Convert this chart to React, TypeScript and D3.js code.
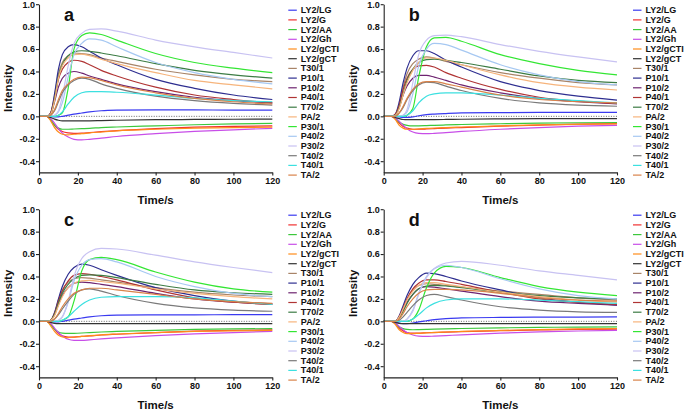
import React, { useEffect, useRef } from "react";
import * as d3 from "d3";

// Sample times (s)
const TIMES = [0, 4, 6, 8, 10, 12, 15, 18, 22, 26, 32, 40, 60, 80, 100, 120];

const SERIES_NAMES = [
  "LY2/LG", "LY2/G", "LY2/AA", "LY2/Gh", "LY2/gCTI", "LY2/gCT", "T30/1", "P10/1", "P10/2",
  "P40/1", "T70/2", "PA/2", "P30/1", "P40/2", "P30/2", "T40/2", "T40/1", "TA/2",
];

const SERIES_COLORS = [
  "#3a3af0", "#f03030", "#3cc83c", "#c84ee8", "#ff8c1a", "#333333", "#a88468", "#2e2e90", "#6e2470",
  "#b03434", "#3c7c44", "#f6b47c", "#33e633", "#a6c8f2", "#c8c2f2", "#7a7a7a", "#3ce0e0", "#d9834a",
];

const Y_TICKS = [-0.4, -0.2, 0.0, 0.2, 0.4, 0.6, 0.8, 1.0];
const X_TICKS = [0, 20, 40, 60, 80, 100, 120];
const PANEL_LETTERS = ["a", "b", "c", "d"];

// Panel a values (rows in SERIES_NAMES order, columns at TIMES)
const PANEL_A = [
  [0, 0, 0, -0.005, -0.005, 0, 0.01, 0.02, 0.03, 0.04, 0.05, 0.055, 0.058, 0.057, 0.056, 0.056],
  [0, 0, -0.03, -0.08, -0.115, -0.135, -0.148, -0.152, -0.15, -0.145, -0.137, -0.128, -0.11, -0.097, -0.09, -0.085],
  [0, 0, -0.03, -0.08, -0.105, -0.115, -0.115, -0.113, -0.11, -0.107, -0.1, -0.095, -0.085, -0.075, -0.068, -0.063],
  [0, 0, -0.02, -0.06, -0.11, -0.15, -0.185, -0.205, -0.21, -0.205, -0.195, -0.18, -0.155, -0.135, -0.12, -0.107],
  [0, 0, -0.04, -0.1, -0.14, -0.16, -0.165, -0.16, -0.155, -0.148, -0.14, -0.13, -0.115, -0.105, -0.1, -0.097],
  [0, 0, -0.01, -0.025, -0.035, -0.04, -0.04, -0.04, -0.04, -0.04, -0.038, -0.035, -0.03, -0.028, -0.026, -0.025],
  [0, 0, 0.03, 0.18, 0.38, 0.48, 0.54, 0.565, 0.56, 0.55, 0.52, 0.49, 0.42, 0.37, 0.33, 0.31],
  [0, 0, 0.03, 0.2, 0.42, 0.55, 0.62, 0.64, 0.62, 0.58, 0.52, 0.46, 0.33, 0.25, 0.19, 0.15],
  [0, 0, 0.02, 0.13, 0.26, 0.34, 0.385, 0.4, 0.385, 0.36, 0.33, 0.29, 0.22, 0.17, 0.14, 0.12],
  [0, 0, 0.03, 0.16, 0.33, 0.42, 0.48, 0.5, 0.49, 0.46, 0.41, 0.36, 0.26, 0.19, 0.15, 0.12],
  [0, 0, 0.02, 0.15, 0.35, 0.46, 0.54, 0.575, 0.585, 0.58, 0.565, 0.54, 0.47, 0.41, 0.37, 0.34],
  [0, 0, 0.02, 0.14, 0.34, 0.45, 0.52, 0.55, 0.555, 0.54, 0.51, 0.47, 0.39, 0.32, 0.28, 0.245],
  [0, 0, 0, 0, 0.01, 0.03, 0.25, 0.6, 0.72, 0.745, 0.73, 0.68, 0.56, 0.48, 0.43, 0.39],
  [0, 0, 0, 0.01, 0.04, 0.12, 0.35, 0.55, 0.65, 0.69, 0.68, 0.62, 0.48, 0.39, 0.33, 0.29],
  [0, 0, 0, 0.01, 0.05, 0.18, 0.45, 0.65, 0.74, 0.775, 0.78, 0.76, 0.68, 0.62, 0.57, 0.52],
  [0, 0, 0.01, 0.05, 0.13, 0.21, 0.28, 0.32, 0.34, 0.33, 0.29, 0.25, 0.18, 0.14, 0.115, 0.1],
  [0, 0, 0, 0, 0.01, 0.04, 0.11, 0.17, 0.21, 0.22, 0.22, 0.215, 0.19, 0.16, 0.14, 0.13],
  [0, 0, 0.01, 0.06, 0.15, 0.23, 0.29, 0.33, 0.35, 0.345, 0.32, 0.28, 0.21, 0.16, 0.13, 0.11],
];

const PANEL_B = [
  [0, 0, 0, -0.005, -0.01, -0.01, -0.005, 0.005, 0.015, 0.02, 0.025, 0.03, 0.033, 0.035, 0.035, 0.035],
  [0, 0, -0.02, -0.06, -0.09, -0.105, -0.115, -0.115, -0.113, -0.11, -0.105, -0.1, -0.088, -0.078, -0.07, -0.065],
  [0, 0, -0.02, -0.05, -0.07, -0.08, -0.085, -0.085, -0.083, -0.08, -0.077, -0.073, -0.066, -0.06, -0.057, -0.055],
  [0, 0, -0.015, -0.045, -0.08, -0.11, -0.14, -0.152, -0.155, -0.152, -0.145, -0.135, -0.115, -0.1, -0.088, -0.08],
  [0, 0, -0.03, -0.08, -0.105, -0.115, -0.115, -0.112, -0.108, -0.104, -0.1, -0.095, -0.085, -0.077, -0.072, -0.068],
  [0, 0, -0.01, -0.02, -0.028, -0.03, -0.03, -0.03, -0.03, -0.029, -0.028, -0.026, -0.023, -0.021, -0.02, -0.02],
  [0, 0, 0.02, 0.1, 0.26, 0.38, 0.47, 0.51, 0.53, 0.52, 0.49, 0.46, 0.39, 0.34, 0.3, 0.28],
  [0, 0, 0.02, 0.13, 0.3, 0.43, 0.54, 0.585, 0.585, 0.56, 0.5, 0.44, 0.31, 0.23, 0.18, 0.145],
  [0, 0, 0.01, 0.08, 0.19, 0.27, 0.34, 0.365, 0.365, 0.35, 0.32, 0.28, 0.21, 0.16, 0.13, 0.11],
  [0, 0, 0.02, 0.1, 0.24, 0.34, 0.42, 0.45, 0.455, 0.44, 0.39, 0.34, 0.24, 0.17, 0.135, 0.115],
  [0, 0, 0.01, 0.08, 0.2, 0.32, 0.42, 0.48, 0.505, 0.51, 0.5, 0.48, 0.42, 0.36, 0.32, 0.3],
  [0, 0, 0.01, 0.07, 0.19, 0.3, 0.41, 0.48, 0.52, 0.52, 0.5, 0.46, 0.37, 0.3, 0.26, 0.235],
  [0, 0, 0, 0, 0, 0.01, 0.07, 0.35, 0.62, 0.7, 0.705, 0.67, 0.55, 0.47, 0.41, 0.37],
  [0, 0, 0, 0, 0.01, 0.04, 0.2, 0.45, 0.6, 0.65, 0.64, 0.59, 0.46, 0.37, 0.31, 0.28],
  [0, 0, 0, 0, 0.01, 0.06, 0.3, 0.55, 0.68, 0.72, 0.725, 0.71, 0.64, 0.58, 0.53, 0.485],
  [0, 0, 0, 0.03, 0.08, 0.15, 0.23, 0.28, 0.305, 0.3, 0.27, 0.23, 0.16, 0.12, 0.1, 0.09],
  [0, 0, 0, 0, 0, 0.01, 0.05, 0.12, 0.18, 0.2, 0.21, 0.21, 0.19, 0.16, 0.14, 0.12],
  [0, 0, 0, 0.03, 0.09, 0.16, 0.24, 0.29, 0.31, 0.31, 0.29, 0.26, 0.19, 0.15, 0.13, 0.12],
];

const PANEL_C = [
  [0, 0, 0, -0.005, -0.005, 0, 0.01, 0.02, 0.03, 0.04, 0.05, 0.055, 0.057, 0.058, 0.059, 0.06],
  [0, 0, -0.02, -0.07, -0.11, -0.13, -0.14, -0.14, -0.135, -0.13, -0.122, -0.115, -0.1, -0.088, -0.08, -0.075],
  [0, 0, -0.03, -0.07, -0.095, -0.105, -0.108, -0.107, -0.104, -0.1, -0.095, -0.09, -0.08, -0.072, -0.067, -0.065],
  [0, 0, -0.02, -0.06, -0.1, -0.13, -0.16, -0.17, -0.17, -0.165, -0.157, -0.148, -0.128, -0.112, -0.1, -0.09],
  [0, 0, -0.04, -0.09, -0.125, -0.14, -0.145, -0.14, -0.135, -0.128, -0.12, -0.113, -0.1, -0.09, -0.085, -0.08],
  [0, 0, -0.01, -0.018, -0.02, -0.02, -0.02, -0.02, -0.02, -0.02, -0.02, -0.02, -0.02, -0.02, -0.02, -0.02],
  [0, 0, 0.01, 0.07, 0.19, 0.28, 0.35, 0.38, 0.39, 0.385, 0.37, 0.35, 0.3, 0.26, 0.235, 0.22],
  [0, 0, 0.01, 0.08, 0.2, 0.31, 0.42, 0.48, 0.51, 0.5, 0.46, 0.41, 0.3, 0.23, 0.18, 0.155],
  [0, 0, 0.01, 0.06, 0.15, 0.23, 0.3, 0.34, 0.35, 0.345, 0.33, 0.31, 0.25, 0.2, 0.17, 0.155],
  [0, 0, 0.01, 0.07, 0.18, 0.27, 0.36, 0.41, 0.425, 0.42, 0.4, 0.37, 0.28, 0.21, 0.17, 0.15],
  [0, 0, 0.01, 0.06, 0.16, 0.25, 0.33, 0.38, 0.41, 0.415, 0.41, 0.39, 0.33, 0.28, 0.255, 0.24],
  [0, 0, 0.01, 0.05, 0.14, 0.22, 0.3, 0.34, 0.36, 0.365, 0.355, 0.34, 0.29, 0.25, 0.22, 0.2],
  [0, 0, 0, 0, 0, 0.01, 0.04, 0.18, 0.45, 0.55, 0.57, 0.55, 0.44, 0.35, 0.29, 0.26],
  [0, 0, 0, 0, 0.01, 0.04, 0.17, 0.36, 0.5, 0.55, 0.56, 0.53, 0.4, 0.31, 0.25, 0.22],
  [0, 0, 0, 0, 0.01, 0.04, 0.18, 0.4, 0.56, 0.62, 0.65, 0.645, 0.59, 0.53, 0.48, 0.435],
  [0, 0, 0, 0.02, 0.06, 0.11, 0.18, 0.24, 0.28, 0.29, 0.27, 0.23, 0.16, 0.12, 0.1, 0.09],
  [0, 0, 0, 0, 0, 0.01, 0.04, 0.09, 0.15, 0.19, 0.215, 0.22, 0.22, 0.21, 0.18, 0.15],
  [0, 0, 0, 0.02, 0.07, 0.13, 0.2, 0.25, 0.28, 0.295, 0.295, 0.28, 0.24, 0.2, 0.175, 0.16],
];

const PANEL_D = [
  [0, 0, -0.005, -0.015, -0.02, -0.02, -0.015, -0.005, 0.005, 0.015, 0.025, 0.03, 0.035, 0.037, 0.038, 0.04],
  [0, 0, -0.02, -0.06, -0.085, -0.1, -0.105, -0.105, -0.102, -0.1, -0.096, -0.092, -0.084, -0.077, -0.072, -0.07],
  [0, 0, -0.02, -0.05, -0.065, -0.072, -0.075, -0.074, -0.072, -0.07, -0.067, -0.064, -0.058, -0.054, -0.051, -0.05],
  [0, 0, -0.015, -0.045, -0.075, -0.1, -0.122, -0.132, -0.135, -0.132, -0.127, -0.12, -0.105, -0.094, -0.086, -0.08],
  [0, 0, -0.03, -0.075, -0.1, -0.11, -0.11, -0.107, -0.103, -0.099, -0.095, -0.09, -0.081, -0.074, -0.068, -0.064],
  [0, 0, -0.01, -0.018, -0.02, -0.02, -0.02, -0.02, -0.02, -0.02, -0.02, -0.02, -0.02, -0.02, -0.02, -0.02],
  [0, 0, 0, 0.04, 0.12, 0.2, 0.28, 0.32, 0.335, 0.33, 0.32, 0.305, 0.27, 0.24, 0.21, 0.19],
  [0, 0, 0, 0.05, 0.14, 0.23, 0.33, 0.39, 0.43, 0.425, 0.4, 0.36, 0.28, 0.21, 0.17, 0.145],
  [0, 0, 0, 0.04, 0.1, 0.17, 0.24, 0.29, 0.31, 0.305, 0.29, 0.27, 0.22, 0.18, 0.16, 0.145],
  [0, 0, 0, 0.04, 0.12, 0.2, 0.29, 0.34, 0.37, 0.37, 0.355, 0.33, 0.26, 0.2, 0.17, 0.15],
  [0, 0, 0, 0.03, 0.09, 0.16, 0.24, 0.29, 0.315, 0.32, 0.315, 0.3, 0.26, 0.23, 0.21, 0.2],
  [0, 0, 0, 0.04, 0.11, 0.19, 0.27, 0.32, 0.345, 0.345, 0.33, 0.31, 0.26, 0.22, 0.19, 0.17],
  [0, 0, 0, 0, 0, 0, 0.02, 0.1, 0.3, 0.43, 0.49, 0.48, 0.39, 0.31, 0.26, 0.23],
  [0, 0, 0, 0, 0, 0.02, 0.1, 0.25, 0.4, 0.47, 0.5, 0.48, 0.38, 0.29, 0.23, 0.2],
  [0, 0, 0, 0, 0, 0.02, 0.09, 0.24, 0.39, 0.47, 0.52, 0.535, 0.5, 0.45, 0.41, 0.37],
  [0, 0, 0, 0.01, 0.04, 0.08, 0.14, 0.19, 0.23, 0.24, 0.22, 0.19, 0.13, 0.1, 0.085, 0.08],
  [0, 0, 0, 0, 0, 0, 0.02, 0.06, 0.12, 0.16, 0.19, 0.2, 0.2, 0.19, 0.175, 0.16],
  [0, 0, 0, 0.02, 0.07, 0.13, 0.2, 0.25, 0.28, 0.285, 0.285, 0.28, 0.25, 0.21, 0.19, 0.18],
];

const PANELS = [PANEL_A, PANEL_B, PANEL_C, PANEL_D];

const FONT = "'Liberation Sans', Arial, sans-serif";

type PanelProps = { idx: number; ox: number; oy: number; data: number[][] };

function Panel({ idx, ox, oy, data }: PanelProps) {
  const xAxisRef = useRef<SVGGElement>(null);
  const yAxisRef = useRef<SVGGElement>(null);
  const plotW = 233.3;
  const x = d3.scaleLinear().domain([0, 120]).range([0, plotW]);
  const y = d3.scaleLinear().domain([-0.5, 1.0]).range([168.2, 0]);

  useEffect(() => {
    const style = (g: d3.Selection<SVGGElement, unknown, null, undefined>) => {
      g.selectAll("path.domain").attr("stroke", "#222").attr("stroke-width", 1.1);
      g.selectAll(".tick line").attr("stroke", "#222").attr("stroke-width", 1.1);
      g.selectAll(".tick text")
        .attr("fill", "#111")
        .attr("font-family", FONT)
        .attr("font-weight", "bold")
        .attr("font-size", 9);
    };
    if (xAxisRef.current) {
      const g = d3.select(xAxisRef.current);
      g.call(
        d3.axisBottom(x).tickValues(X_TICKS).tickSize(3).tickSizeOuter(0).tickPadding(2).tickFormat((d) => String(d))
      );
      style(g);
    }
    if (yAxisRef.current) {
      const g = d3.select(yAxisRef.current);
      g.call(
        d3
          .axisLeft(y)
          .tickValues(Y_TICKS)
          .tickSize(3)
          .tickSizeOuter(0)
          .tickPadding(1)
          .tickFormat((d) => (d as number).toFixed(1))
      );
      style(g);
    }
  }, []);

  const line = d3
    .line<number>()
    .x((_, i) => x(TIMES[i]))
    .y((d) => y(d))
    .curve(d3.curveMonotoneX);

  const legendX = plotW + 16;
  return (
    <g transform={`translate(${ox},${oy})`}>
      <line
        x1={x(5)}
        x2={x(120)}
        y1={y(0)}
        y2={y(0)}
        stroke="#555"
        strokeWidth={0.9}
        strokeDasharray="1,1.5"
      />
      {data.map((vals, i) => (
        <path key={i} d={line(vals) || ""} fill="none" stroke={SERIES_COLORS[i]} strokeWidth={1.2} />
      ))}
      <g ref={yAxisRef} />
      <g ref={xAxisRef} transform={`translate(0,${y(-0.5)})`} />
      <text
        transform={`translate(${-27},${y(0.25)}) rotate(-90)`}
        textAnchor="middle"
        fontFamily={FONT}
        fontWeight="bold"
        fontSize={11.5}
        fill="#111"
      >
        Intensity
      </text>
      <text
        x={plotW / 2}
        y={y(-0.5) + 31.5}
        textAnchor="middle"
        fontFamily={FONT}
        fontWeight="bold"
        fontSize={11.5}
        fill="#111"
      >
        Time/s
      </text>
      <text x={25} y={17} fontFamily={FONT} fontWeight="bold" fontSize={18} fill="#111">
        {PANEL_LETTERS[idx]}
      </text>
      {SERIES_NAMES.map((name, i) => {
        const ly = 6 + i * 9.7;
        return (
          <g key={name}>
            <line x1={legendX} x2={legendX + 8.5} y1={ly} y2={ly} stroke={SERIES_COLORS[i]} strokeWidth={1.2} />
            <text
              x={legendX + 12.5}
              y={ly}
              dominantBaseline="central"
              fontFamily={FONT}
              fontWeight="bold"
              fontSize={9}
              fill="#111"
            >
              {name}
            </text>
          </g>
        );
      })}
    </g>
  );
}

export default function App() {
  const origins = [
    [39, 4.2],
    [383.7, 4.2],
    [39, 209.2],
    [383.7, 209.2],
  ];
  return (
    <div style={{ position: "absolute", left: 0, top: 0 }}>
      <svg width={685} height={410} style={{ display: "block", background: "#fff" }}>
        {PANELS.map((data, i) => (
          <Panel key={i} idx={i} ox={origins[i][0]} oy={origins[i][1]} data={data} />
        ))}
      </svg>
    </div>
  );
}
